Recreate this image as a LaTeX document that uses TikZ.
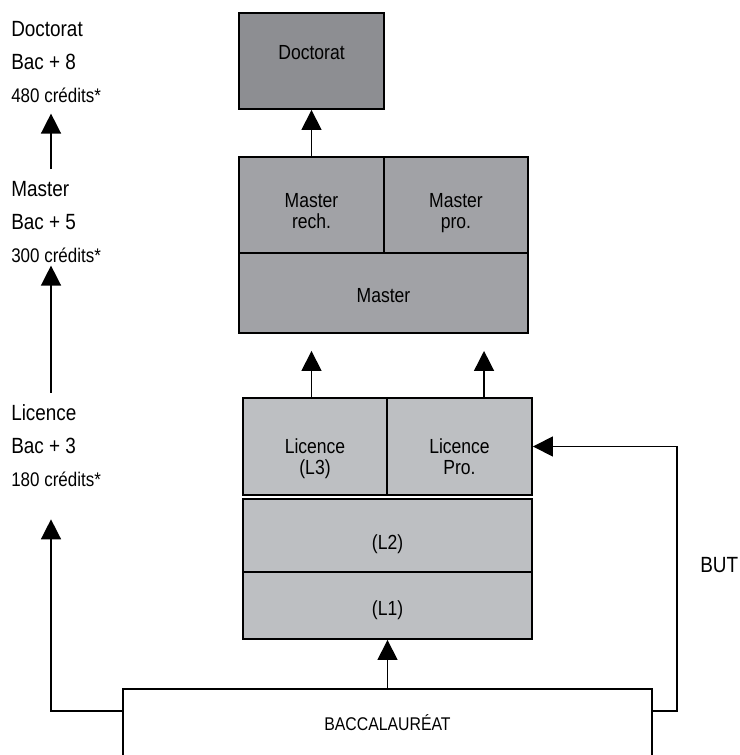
\documentclass[tikz,border=0pt]{standalone}
\usepackage{fontspec}
\setmainfont{Liberation Sans}[FakeStretch=0.86]
\usetikzlibrary{arrows.meta}
\definecolor{grdoc}{HTML}{8D8E92}
\definecolor{grmaster}{HTML}{A1A2A6}
\definecolor{grlic}{HTML}{BDBFC2}

\begin{document}
\begin{tikzpicture}[x=0.75pt, y=-0.75pt,
          cell/.style={draw=black, line width=1.4pt, inner sep=0pt},
          ctext/.style={align=center, inner sep=0pt, font=\fontsize{15.3}{15.5}\selectfont},
          lvl/.style={anchor=west, align=left, inner sep=0pt, font=\fontsize{16.5}{24.75}\selectfont},
          arr/.style={-{Triangle[length=15pt, width=15pt]}, line width=1.1pt}]
        \clip (0,0) rectangle (739,755);
        \node[cell, fill=grdoc, minimum width=108.75pt, minimum height=72pt, label={[ctext, yshift=6pt]center:Doctorat}] (doc) at (311.5,61) {};
        \node[cell, fill=grmaster, minimum width=108.75pt, minimum height=72pt, label={[ctext, yshift=-6.75pt]center:Master\\rech.\strut}] (mrech) at (311.5,205) {};
        \node[cell, fill=grmaster, minimum width=108pt, minimum height=72pt, label={[ctext, yshift=-6.75pt]center:Master\\pro.\strut}] (mpro) at (456,205) {};
        \node[cell, fill=grmaster, minimum width=216.75pt, minimum height=60pt, label={[ctext, yshift=-2.25pt]center:Master}] (master) at (383.5,293) {};
        \node[cell, fill=grlic, minimum width=108pt, minimum height=72.75pt, label={[ctext, font=\fontsize{15.3}{16}\selectfont, yshift=-9.75pt]center:Licence\\(L3)\strut}] (l3) at (315,446.5) {};
        \node[cell, fill=grlic, minimum width=108.75pt, minimum height=72.75pt, label={[ctext, font=\fontsize{15.3}{16}\selectfont, yshift=-9.75pt]center:Licence\\Pro.\strut}] (lpro) at (459.5,446.5) {};
        \node[cell, fill=grlic, minimum width=216.75pt, minimum height=54.75pt, label={[ctext, yshift=-6.75pt]center:(L2)}] (l2) at (387.5,535.5) {};
        \node[cell, fill=grlic, minimum width=216.75pt, minimum height=50.25pt, label={[ctext, yshift=-3.75pt]center:(L1)}] (l1) at (387.5,605.5) {};
        \node[cell, fill=white, minimum width=396.75pt, minimum height=51pt, label={[ctext, font=\fontsize{13.8}{15}\selectfont]center:BACCALAURÉAT}] (bac) at (387.5,723) {};
        \node[lvl] (doclvl) at (11,62) {Doctorat\\Bac + 8\\{\fontsize{14.8}{15}\selectfont 480 crédits*}};
        \node[lvl] (mlvl) at (11,222) {Master\\Bac + 5\\{\fontsize{14.8}{15}\selectfont 300 crédits*}};
        \node[lvl] (liclvl) at (11,446) {Licence\\Bac + 3\\{\fontsize{14.8}{15}\selectfont 180 crédits*}};
        \node[lvl] (but) at (700,565) {BUT};
        \draw[arr] (mrech) -- (doc);
        \draw[arr, shorten >=12.75pt] (l3.north -| mrech) -- (mrech |- master.south);
        \draw[arr, shorten >=12.75pt] ([xshift=18.4pt]lpro.north) -- ([xshift=18.4pt]lpro.north |- master.south);
        \draw[arr] (bac) -- (l1);
        \draw[arr, shorten <=9pt, shorten >=8pt] ([xshift=30pt]mlvl.north west) -- ([xshift=30pt]doclvl.south west);
        \draw[arr, shorten <=9pt, shorten >=2pt] ([xshift=30pt]liclvl.north west) -- ([xshift=30pt]mlvl.south west);
        \draw[arr, shorten >=24pt] ([yshift=9pt]bac.west) -| ([xshift=30pt]liclvl.south west);
        \draw[arr] ([yshift=9pt]bac.east) -- ++(24,0) |- (lpro.east);
      \end{tikzpicture}
\end{document}
